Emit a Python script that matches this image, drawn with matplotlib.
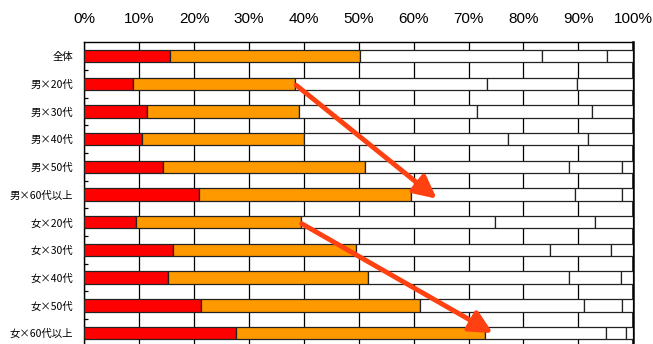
import matplotlib
matplotlib.use("Agg")
import matplotlib.pyplot as plt
import numpy as np

plt.rcParams['font.family'] = ['Liberation Sans', 'Noto Sans CJK JP', 'DejaVu Sans']

# Categories, top to bottom
categories = ["全体", "男×20代", "男×30代", "男×40代", "男×50代", "男×60代以上",
              "女×20代", "女×30代", "女×40代", "女×50代", "女×60代以上"]

# Share of each answer (%) per category
seg1 = [15.6, 8.8, 11.4, 10.5, 14.3, 20.9, 9.4, 16.2, 15.2, 21.2, 27.6]
seg2 = [34.7, 29.6, 27.7, 29.5, 36.8, 38.7, 30.0, 33.3, 36.4, 39.9, 45.4]
seg3 = [33.0, 34.9, 32.4, 37.1, 37.1, 29.8, 35.4, 35.3, 36.6, 29.9, 22.0]
seg4 = [12.0, 16.4, 20.9, 14.6, 9.7, 8.5, 18.2, 11.1, 9.5, 6.9, 3.7]
seg5 = [4.7, 10.3, 7.6, 8.3, 2.1, 2.1, 7.0, 4.1, 2.3, 2.1, 1.3]

segments = [seg1, seg2, seg3, seg4, seg5]
colors = ["#FF0000", "#FF9900", "#FFFFFF", "#FFFFFF", "#FFFFFF"]

xticks = list(range(0, 101, 10))
xtick_labels = [f"{v}%" for v in xticks]

fig = plt.figure(figsize=(6.53, 3.44), dpi=100)
ax = fig.add_axes([0.1291, -0.0083, 0.8407, 0.8853])

y = np.arange(len(categories))
left = np.zeros(len(categories))
for vals, col in zip(segments, colors):
    vals = np.array(vals)
    ax.barh(y, vals, left=left, height=0.45, color=col,
            edgecolor="#222222", linewidth=0.9, zorder=3)
    left += vals

ax.set_xlim(0, 100)
ax.set_ylim(len(categories) - 0.5, -0.5)

# percent axis on top
ax.xaxis.tick_top()
ax.set_xticks(xticks)
ax.set_xticklabels(xtick_labels, fontsize=11)
ax.tick_params(axis="x", length=0, pad=12)
ax.grid(axis="x", color="black", linewidth=0.9, zorder=0)
ax.set_axisbelow(True)

ax.set_yticks(y)
ax.set_yticklabels(categories, fontsize=7.5, family=['Noto Sans CJK JP', 'DejaVu Sans'])
ax.tick_params(axis="y", which="major", length=0, pad=8)
ax.set_yticks(np.arange(0.5, len(categories) - 0.5, 1), minor=True)
ax.tick_params(axis="y", which="minor", direction="in", length=3, width=0.9, color="black")

for side in ["top", "left", "right", "bottom"]:
    ax.spines[side].set_color("black")
    ax.spines[side].set_linewidth(1.0)
ax.spines["right"].set_linewidth(1.8)

# trend arrows from the 20s to the 60s+
arrow_kw = dict(arrowstyle="-|>,head_length=0.8,head_width=0.4", color="#FF4010",
                lw=3.5, mutation_scale=17, shrinkA=0, shrinkB=0)
ax.annotate("", xy=(64.2, 5.15), xytext=(38.6, 1.05), arrowprops=arrow_kw, zorder=5)
ax.annotate("", xy=(74.4, 10.0), xytext=(39.6, 6.05), arrowprops=arrow_kw, zorder=5)

fig.savefig("out.png", dpi=100)
